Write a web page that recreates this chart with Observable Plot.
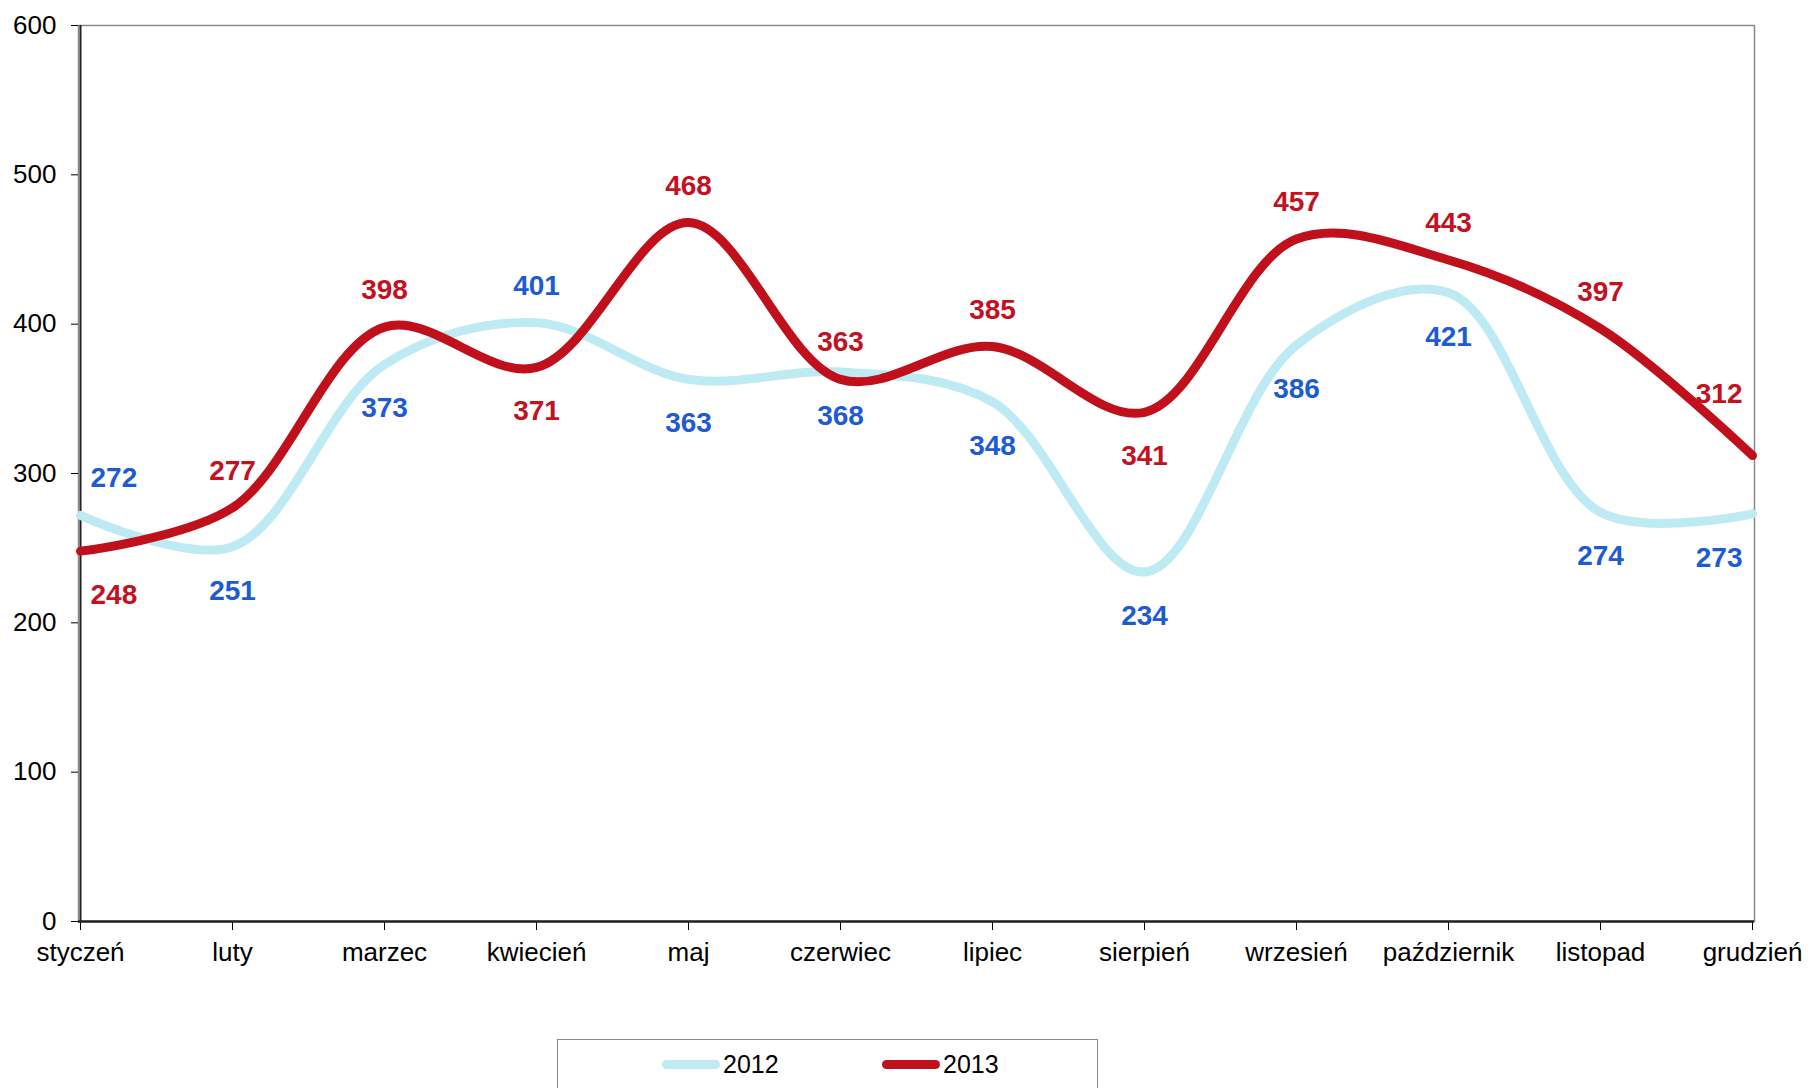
<!DOCTYPE html>
<html>
<head>
<meta charset="utf-8">
<script src="https://cdn.jsdelivr.net/npm/d3@7"></script>
<script src="https://cdn.jsdelivr.net/npm/@observablehq/plot@0.6"></script>
<style>
  html, body { margin: 0; padding: 0; background: #fff; }
  body { position: relative; width: 1810px; height: 1088px; overflow: hidden; font-family: "Liberation Sans", Arial, sans-serif; }
  #legend { position: absolute; left: 557px; top: 1039px; width: 541px; height: 70px; border: 1.5px solid #8a8a8a; box-sizing: border-box; }
  .item { position: absolute; top: 10px; display: flex; align-items: center; font-size: 25px; color: #000; }
  .sw { width: 58px; height: 9px; border-radius: 5px; margin-right: 3px; }
</style>
</head>
<body>
<div id="chart"></div>
<div id="legend"></div>
<script>
const months = ["styczeń","luty","marzec","kwiecień","maj","czerwiec","lipiec","sierpień","wrzesień","październik","listopad","grudzień"];
const values2012 = [272, 251, 373, 401, 363, 368, 348, 234, 386, 421, 274, 273];
const values2013 = [248, 277, 398, 371, 468, 363, 385, 341, 457, 443, 397, 312];
const seriesNames = ["2012", "2013"];
const yTicks = [0, 100, 200, 300, 400, 500, 600];

const lineColors = {"2012": "#bdeaf3", "2013": "#c0101c"};
const textColors = {"2012": "#1d5bd3", "2013": "#c3111f"};

const rows = [];
months.forEach((m, i) => {
  rows.push({month: m, series: "2012", value: values2012[i], i});
  rows.push({month: m, series: "2013", value: values2013[i], i});
});

// label placement (above/below the curve), as in the original
const aboveIdx = {"2012": new Set([0, 3]), "2013": new Set([1, 2, 4, 5, 6, 8, 9, 10, 11])};
const last = months.length - 1;
const labelMarks = rows.map(d => {
  const above = aboveIdx[d.series].has(d.i);
  let anchor = "middle", dx = 0;
  let dy = above ? -37 : 44;
  if (d.i === 0) { anchor = "start"; dx = 10; }
  else if (d.i === last) { anchor = "end"; dx = -10; if (above) dy = -62; }
  return Plot.text([d], {
    x: "month", y: "value", text: d => String(d.value),
    dy, dx, textAnchor: anchor,
    fill: textColors[d.series], fontWeight: "bold", fontSize: 28
  });
});

const chart = Plot.plot({
  width: 1810,
  height: 1000,
  marginLeft: 78,
  marginRight: 56,
  marginTop: 25,
  marginBottom: 79,
  style: {fontFamily: "'Liberation Sans', Arial, sans-serif", fontSize: "26px", color: "#000", background: "#fff"},
  x: {type: "point", domain: months, padding: 0, label: null},
  y: {domain: [0, 600], label: null},
  marks: [
    Plot.frame({stroke: "#8a8a8a", strokeWidth: 1.5}),
    Plot.axisY({ticks: yTicks, tickSize: 7, tickPadding: 15, fontSize: 26, label: null, tickFormat: d => String(d)}),
    Plot.axisX({tickSize: 9, tickPadding: 12, fontSize: 26, label: null}),
    Plot.ruleX([months[0]], {stroke: "#222", strokeWidth: 2}),
    Plot.ruleY([0], {stroke: "#222", strokeWidth: 2.5}),
    Plot.line(rows.filter(d => d.series === "2012"), {x: "month", y: "value", stroke: lineColors["2012"], strokeWidth: 9, curve: "catmull-rom"}),
    Plot.line(rows.filter(d => d.series === "2013"), {x: "month", y: "value", stroke: lineColors["2013"], strokeWidth: 9, curve: "catmull-rom"}),
    ...labelMarks
  ]
});
document.getElementById("chart").appendChild(chart);

const legend = document.getElementById("legend");
const lefts = [104, 324];
seriesNames.forEach((s, k) => {
  const it = document.createElement("div");
  it.className = "item";
  it.style.left = lefts[k] + "px";
  const sw = document.createElement("span");
  sw.className = "sw";
  sw.style.background = lineColors[s];
  const tx = document.createElement("span");
  tx.textContent = s;
  it.appendChild(sw); it.appendChild(tx);
  legend.appendChild(it);
});
</script>
</body>
</html>
